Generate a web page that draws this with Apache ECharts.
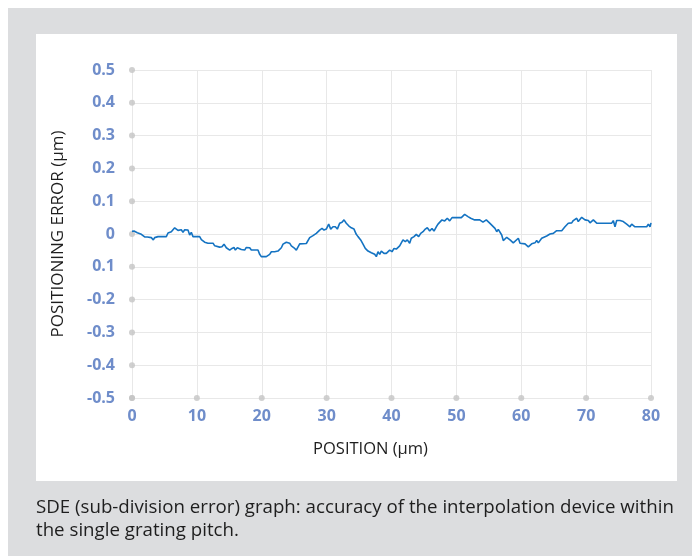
<!DOCTYPE html>
<html>
<head>
<meta charset="utf-8">
<script src="https://cdn.jsdelivr.net/npm/echarts@6/dist/echarts.min.js"></script>
<style>
  html, body { margin: 0; padding: 0; background: #ffffff; }
  #outer { position: absolute; left: 8px; top: 8px; width: 684px; height: 548px; background: #dcdddf; }
  #inner { position: absolute; left: 36px; top: 34px; width: 641px; height: 447px; background: #ffffff; }
  #chart { position: absolute; left: 0; top: 0; width: 692px; height: 556px; }
</style>
</head>
<body>
<div id="outer"></div>
<div id="inner"></div>
<div id="chart"></div>
<script>
// Tick labels (as printed in the reference, including its "0.1" below zero)
const yTickValues = [-0.5, -0.4, -0.3, -0.2, -0.1, 0, 0.1, 0.2, 0.3, 0.4, 0.5];
const yTickLabels = ['-0.5', '-0.4', '-0.3', '-0.2', '0.1', '0', '0.1', '0.2', '0.3', '0.4', '0.5'];
const xTickValues = [0, 10, 20, 30, 40, 50, 60, 70, 80];

// Measured SDE curve: position (µm) and positioning error (µm)
const positions = [
  0, 0.31, 0.51, 0.82, 1.08, 1.44, 1.95, 2.36, 2.57, 2.98, 3.29, 3.49, 3.70, 4.01, 5.29, 5.55, 5.80, 6.06, 6.32, 6.58,
  6.83, 7.09, 7.35, 7.60, 7.86, 8.12, 8.37, 8.63, 8.89, 9.14, 9.40, 9.66, 9.91, 10.17, 10.43, 10.69, 10.94, 11.20, 11.71, 12.49,
  12.75, 13.51, 13.87, 14.18, 14.54, 15.06, 15.41, 15.72, 15.93, 16.24, 16.54, 16.85, 17.11, 17.37, 17.62, 17.88, 18.14, 18.39, 18.91, 19.16,
  19.42, 19.68, 19.93, 20.70, 20.96, 21.22, 21.48, 21.73, 21.99, 22.25, 22.50, 22.76, 23.02, 23.28, 23.53, 23.79, 24.05, 24.30, 24.56, 24.97,
  25.33, 25.85, 26.87, 27.39, 27.90, 28.41, 28.93, 29.29, 29.60, 29.95, 30.32, 30.63, 30.98, 31.34, 31.65, 32.02, 32.37, 32.68, 33.03, 33.40,
  33.80, 34.22, 34.57, 34.84, 35.25, 35.61, 35.96, 36.38, 36.89, 37.41, 37.66, 37.92, 38.18, 38.43, 38.84, 39.20, 39.72, 40.08, 40.39, 40.74,
  41.26, 41.42, 41.77, 42.13, 42.44, 42.80, 43.05, 43.47, 43.82, 44.19, 44.50, 44.86, 45.21, 45.52, 45.89, 46.24, 46.55, 46.91, 47.17, 47.43,
  47.78, 48.20, 48.60, 48.97, 49.33, 49.99, 50.76, 51.28, 51.79, 52.21, 52.82, 53.60, 54.10, 54.61, 55.14, 55.45, 55.95, 56.22, 56.46, 56.99,
  57.23, 57.76, 58.27, 58.77, 59.04, 59.55, 59.81, 60.07, 60.58, 61.09, 61.61, 62.12, 62.38, 62.63, 63.15, 63.40, 63.92, 64.43, 64.94, 65.46,
  66.24, 66.74, 67.25, 67.78, 68.02, 68.55, 68.79, 69.32, 69.83, 70.34, 70.60, 71.11, 71.63, 72.65, 73.94, 74.19, 74.45, 74.71, 75.22, 75.73,
  76.25, 76.50, 76.76, 77.02, 77.53, 79.34, 79.59, 79.85, 80.0
];
const errors = [
  0.008, 0.009, 0.012, 0.004, 0.010, -0.001, -0.009, -0.009, -0.013, -0.011, -0.018, -0.011, -0.017, -0.008, -0.008, 0.003, -0.001, 0.007, 0.005, 0.019,
  0.013, 0.011, 0.007, 0.013, 0.005, 0.013, 0.007, 0.012, -0.003, 0.005, -0.008, -0.005, -0.008, -0.003, -0.008, -0.017, -0.018, -0.025, -0.028, -0.028,
  -0.036, -0.040, -0.039, -0.031, -0.042, -0.049, -0.044, -0.041, -0.049, -0.042, -0.039, -0.047, -0.042, -0.049, -0.041, -0.047, -0.042, -0.049, -0.049, -0.054,
  -0.049, -0.062, -0.069, -0.069, -0.064, -0.062, -0.054, -0.059, -0.054, -0.060, -0.052, -0.049, -0.042, -0.031, -0.028, -0.025, -0.019, -0.028, -0.036, -0.042,
  -0.049, -0.030, -0.029, -0.011, -0.005, 0.002, 0.012, 0.017, 0.012, 0.015, 0.030, 0.015, 0.022, 0.022, 0.015, 0.033, 0.036, 0.043, 0.033, 0.025,
  0.019, 0.015, -0.001, -0.008, -0.018, -0.031, -0.044, -0.052, -0.057, -0.062, -0.069, -0.054, -0.062, -0.052, -0.059, -0.059, -0.049, -0.054, -0.044, -0.046,
  -0.036, -0.031, -0.018, -0.023, -0.018, -0.028, -0.013, -0.008, -0.001, -0.008, 0.002, 0.007, 0.015, 0.019, 0.009, 0.017, 0.009, 0.022, 0.030, 0.025,
  0.043, 0.040, 0.048, 0.040, 0.050, 0.050, 0.050, 0.060, 0.053, 0.048, 0.043, 0.043, 0.036, 0.043, 0.033, 0.027, 0.017, 0.007, 0.014, -0.003,
  -0.020, -0.010, -0.018, -0.027, -0.028, -0.013, -0.028, -0.023, -0.030, -0.039, -0.030, -0.027, -0.020, -0.027, -0.013, -0.018, -0.006, 0.000, 0.002, 0.010,
  0.010, 0.022, 0.033, 0.034, 0.041, 0.048, 0.038, 0.051, 0.043, 0.041, 0.034, 0.043, 0.033, 0.033, 0.033, 0.041, 0.022, 0.041, 0.041, 0.038,
  0.030, 0.033, 0.022, 0.030, 0.022, 0.022, 0.030, 0.022, 0.034
];

const xTitle = 'POSITION (µm)';
const yTitle = 'POSITIONING ERROR (µm)';
const caption = 'SDE (sub-division error) graph: accuracy of the interpolation device within\nthe single grating pitch.';

const lineData = positions.map((p, i) => [p, errors[i]]);
const tickDots = yTickValues.map(v => [0, v]).concat(xTickValues.map(v => [v, -0.5]));

const labelFont = { color: '#6f8dca', fontWeight: 'bold', fontSize: 16, fontFamily: 'Open Sans' };
const gridColor = '#e8e8e8';

const chart = echarts.init(document.getElementById('chart'), null, { renderer: 'canvas' });
chart.setOption({
  backgroundColor: 'transparent',
  animation: false,
  title: {
    text: caption,
    left: 36,
    top: 496,
    padding: 0,
    textStyle: { color: '#1e1e1e', fontSize: 18.7, fontWeight: 'normal', fontFamily: 'Open Sans', lineHeight: 23 }
  },
  grid: { left: 132, right: 41, top: 70, bottom: 158 },
  xAxis: {
    type: 'value', min: 0, max: 80, interval: 10,
    name: xTitle, nameLocation: 'middle', nameGap: 43,
    nameTextStyle: { color: '#1e1e1e', fontSize: 16.5, fontFamily: 'Open Sans', padding: [0, 42, 0, 0] },
    axisLine: { show: true, lineStyle: { color: gridColor } },
    axisTick: { show: false },
    axisLabel: Object.assign({ margin: 10 }, labelFont),
    splitLine: { show: true, lineStyle: { color: gridColor, width: 1 } }
  },
  yAxis: {
    type: 'value', min: -0.5, max: 0.5, interval: 0.1,
    name: yTitle, nameLocation: 'middle', nameGap: 65, nameRotate: 90,
    nameTextStyle: { color: '#1e1e1e', fontSize: 17, fontFamily: 'Open Sans' },
    axisLine: { show: true, lineStyle: { color: gridColor } },
    axisTick: { show: false },
    axisLabel: Object.assign({
      margin: 17,
      formatter: function (v) {
        const i = Math.round((v + 0.5) * 10);
        return yTickLabels[i] !== undefined ? yTickLabels[i] : '';
      }
    }, labelFont),
    splitLine: { show: true, lineStyle: { color: gridColor, width: 1 } }
  },
  series: [
    {
      type: 'scatter',
      data: tickDots,
      symbol: 'circle',
      symbolSize: 6,
      clip: false,
      itemStyle: { color: '#c4c4c4' },
      z: 3,
      silent: true
    },
    {
      type: 'line',
      data: lineData,
      showSymbol: false,
      symbol: 'none',
      lineStyle: { color: '#1473c2', width: 1.6 },
      z: 4
    }
  ]
});
</script>
</body>
</html>
